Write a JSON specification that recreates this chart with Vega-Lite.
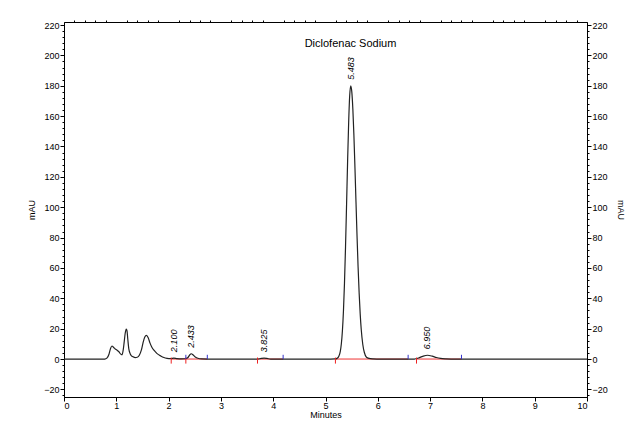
{
  "$schema": "https://vega.github.io/schema/vega-lite/v6.json",
  "autosize": "none",
  "width": 523,
  "height": 375,
  "padding": {"left": 64, "top": 22, "right": 55, "bottom": 35},
  "background": "white",
  "config": {
    "font": "Liberation Sans",
    "view": {"stroke": "black", "strokeWidth": 1},
    "axis": {"labelFont": "Liberation Sans", "labelFontSize": 9, "labelColor": "black", "titleFont": "Liberation Sans", "titleFontSize": 9, "titleFontWeight": "normal", "titleColor": "black", "domainColor": "black", "tickColor": "black", "grid": false, "labelPadding": 1, "tickSize": 4},
    "title": {"font": "Liberation Sans", "fontSize": 11, "fontWeight": "normal", "color": "black"}
  },
  "title": {"text": "Diclofenac Sodium", "anchor": "middle", "dx": 25, "baseline": "middle", "offset": -35},
  "datasets": {
    "curve": [
      {"t": 0, "mAU": 0}, {"t": 0.5, "mAU": 0}, {"t": 0.78, "mAU": 0}, {"t": 0.82, "mAU": 0.6},
      {"t": 0.86, "mAU": 3.2}, {"t": 0.89, "mAU": 7.0}, {"t": 0.917, "mAU": 8.6}, {"t": 0.95, "mAU": 7.6},
      {"t": 0.98, "mAU": 6.6}, {"t": 1.01, "mAU": 6.0}, {"t": 1.05, "mAU": 4.8}, {"t": 1.08, "mAU": 3.4},
      {"t": 1.11, "mAU": 2.8}, {"t": 1.13, "mAU": 5.5}, {"t": 1.15, "mAU": 11}, {"t": 1.17, "mAU": 17},
      {"t": 1.19, "mAU": 19.8}, {"t": 1.205, "mAU": 18.5}, {"t": 1.22, "mAU": 13}, {"t": 1.24, "mAU": 6.5},
      {"t": 1.27, "mAU": 3.2}, {"t": 1.31, "mAU": 1.6}, {"t": 1.36, "mAU": 1.0}, {"t": 1.40, "mAU": 1.2},
      {"t": 1.44, "mAU": 2.5}, {"t": 1.48, "mAU": 6}, {"t": 1.51, "mAU": 10.5}, {"t": 1.545, "mAU": 14.5},
      {"t": 1.577, "mAU": 15.6}, {"t": 1.61, "mAU": 14}, {"t": 1.645, "mAU": 10.5}, {"t": 1.68, "mAU": 7.8},
      {"t": 1.72, "mAU": 5.8}, {"t": 1.78, "mAU": 3.6}, {"t": 1.85, "mAU": 2.0}, {"t": 1.91, "mAU": 1.0},
      {"t": 1.97, "mAU": 0.5}, {"t": 2.04, "mAU": 0.3}, {"t": 2.1, "mAU": 0.6}, {"t": 2.16, "mAU": 0.3},
      {"t": 2.24, "mAU": 0.1}, {"t": 2.32, "mAU": 0.2}, {"t": 2.37, "mAU": 1.0}, {"t": 2.405, "mAU": 2.8},
      {"t": 2.433, "mAU": 3.5}, {"t": 2.465, "mAU": 2.9}, {"t": 2.51, "mAU": 1.4}, {"t": 2.56, "mAU": 0.5},
      {"t": 2.63, "mAU": 0.1}, {"t": 2.75, "mAU": 0}, {"t": 3.7, "mAU": 0}, {"t": 3.77, "mAU": 0.4},
      {"t": 3.825, "mAU": 0.6}, {"t": 3.88, "mAU": 0.4}, {"t": 3.95, "mAU": 0}, {"t": 5.1, "mAU": 0},
      {"t": 5.183, "mAU": 0.06}, {"t": 5.223, "mAU": 0.45}, {"t": 5.253, "mAU": 1.6}, {"t": 5.283, "mAU": 5.1},
      {"t": 5.303, "mAU": 10.1}, {"t": 5.323, "mAU": 18.5}, {"t": 5.343, "mAU": 31.5}, {"t": 5.363, "mAU": 50},
      {"t": 5.383, "mAU": 74}, {"t": 5.403, "mAU": 101.9}, {"t": 5.423, "mAU": 130.7}, {"t": 5.443, "mAU": 156},
      {"t": 5.463, "mAU": 173.7}, {"t": 5.483, "mAU": 180}, {"t": 5.503, "mAU": 176}, {"t": 5.523, "mAU": 164.7},
      {"t": 5.543, "mAU": 147.4}, {"t": 5.563, "mAU": 126.2}, {"t": 5.583, "mAU": 103.4}, {"t": 5.603, "mAU": 81},
      {"t": 5.623, "mAU": 60.8}, {"t": 5.643, "mAU": 43.6}, {"t": 5.663, "mAU": 29.9}, {"t": 5.683, "mAU": 19.6},
      {"t": 5.713, "mAU": 9.6}, {"t": 5.743, "mAU": 4.3}, {"t": 5.783, "mAU": 1.2}, {"t": 5.833, "mAU": 0.4},
      {"t": 5.903, "mAU": 0.1}, {"t": 5.983, "mAU": 0},
      {"t": 6.7, "mAU": 0}, {"t": 6.78, "mAU": 0.7}, {"t": 6.86, "mAU": 1.8}, {"t": 6.95, "mAU": 2.5},
      {"t": 7.04, "mAU": 1.9}, {"t": 7.12, "mAU": 1.0}, {"t": 7.2, "mAU": 0.4}, {"t": 7.3, "mAU": 0.1},
      {"t": 7.4, "mAU": 0}, {"t": 10, "mAU": 0}
    ],
    "peaks": [
      {"rt": 2.1, "label": "2.100", "h": 0.6},
      {"rt": 2.433, "label": "2.433", "h": 3.5},
      {"rt": 3.825, "label": "3.825", "h": 0.6},
      {"rt": 5.483, "label": "5.483", "h": 180},
      {"rt": 6.95, "label": "6.950", "h": 2.5}
    ],
    "segments": [
      {"start": 2.05, "end": 2.74}, {"start": 3.70, "end": 4.19},
      {"start": 5.19, "end": 6.58}, {"start": 6.74, "end": 7.60}
    ],
    "startTicks": [{"rt": 2.05}, {"rt": 2.33}, {"rt": 3.70}, {"rt": 5.19}, {"rt": 6.74}],
    "endTicks": [{"rt": 2.33}, {"rt": 2.74}, {"rt": 4.19}, {"rt": 6.58}, {"rt": 7.60}]
  },
  "resolve": {"axis": {"x": "independent", "y": "independent"}},
  "layer": [
    {
      "data": {"name": "segments"},
      "mark": {"type": "rule", "color": "#ee3333", "strokeWidth": 1},
      "encoding": {
        "x": {"field": "start", "type": "quantitative", "scale": {"domain": [0, 10], "nice": false}, "axis": null},
        "x2": {"field": "end"},
        "y": {"datum": 0, "type": "quantitative", "scale": {"domain": [-25, 222], "nice": false, "zero": false}, "axis": null}
      }
    },
    {
      "data": {"name": "curve"},
      "mark": {"type": "line", "color": "#222222", "strokeWidth": 1.2, "interpolate": "monotone"},
      "encoding": {
        "x": {"field": "t", "type": "quantitative", "title": "Minutes", "axis": {"values": [0,1,2,3,4,5,6,7,8,9,10], "titleY": 17, "titleBaseline": "middle", "tickSize": 4, "labelPadding": 0}},
        "y": {"field": "mAU", "type": "quantitative", "title": "mAU", "axis": {"orient": "left", "values": [-20,0,20,40,60,80,100,120,140,160,180,200,220], "titlePadding": 7}}
      }
    },
    {
      "data": {"name": "curve"},
      "mark": {"type": "line", "strokeOpacity": 0},
      "encoding": {
        "x": {"field": "t", "type": "quantitative", "axis": {"title": null, "labels": false, "domain": false, "tickSize": 2, "values": [0.2,0.4,0.6,0.8,1.2,1.4,1.6,1.8,2.2,2.4,2.6,2.8,3.2,3.4,3.6,3.8,4.2,4.4,4.6,4.8,5.2,5.4,5.6,5.8,6.2,6.4,6.6,6.8,7.2,7.4,7.6,7.8,8.2,8.4,8.6,8.8,9.2,9.4,9.6,9.8]}},
        "y": {"field": "mAU", "type": "quantitative", "axis": {"orient": "left", "title": null, "labels": false, "domain": false, "tickSize": 2, "values": [-24,-16,-12,-8,-4,4,8,12,16,24,28,32,36,44,48,52,56,64,68,72,76,84,88,92,96,104,108,112,116,124,128,132,136,144,148,152,156,164,168,172,176,184,188,192,196,204,208,212,216]}}
      }
    },
    {
      "data": {"name": "curve"},
      "mark": {"type": "line", "strokeOpacity": 0},
      "encoding": {
        "x": {"field": "t", "type": "quantitative", "axis": null},
        "y": {"field": "mAU", "type": "quantitative", "axis": {"orient": "right", "title": null, "labels": false, "domain": false, "tickSize": 2, "values": [-24,-16,-12,-8,-4,4,8,12,16,24,28,32,36,44,48,52,56,64,68,72,76,84,88,92,96,104,108,112,116,124,128,132,136,144,148,152,156,164,168,172,176,184,188,192,196,204,208,212,216]}}
      }
    },
    {
      "data": {"name": "startTicks"},
      "mark": {"type": "rule", "color": "#ee2222", "strokeWidth": 1},
      "encoding": {
        "x": {"field": "rt", "type": "quantitative", "axis": null},
        "y": {"datum": 1, "type": "quantitative", "axis": null},
        "y2": {"datum": -3}
      }
    },
    {
      "data": {"name": "endTicks"},
      "mark": {"type": "rule", "color": "#3333cc", "strokeWidth": 1},
      "encoding": {
        "x": {"field": "rt", "type": "quantitative", "axis": null},
        "y": {"datum": 0, "type": "quantitative", "axis": null},
        "y2": {"datum": 2.8}
      }
    },
    {
      "data": {"name": "peaks"},
      "mark": {"type": "text", "angle": 270, "align": "left", "baseline": "middle", "fontSize": 9, "font": "Liberation Sans", "fontStyle": "italic", "color": "black", "yOffset": -6},
      "encoding": {
        "x": {"field": "rt", "type": "quantitative", "axis": null},
        "y": {"field": "h", "type": "quantitative", "axis": {"orient": "right", "title": "mAU", "values": [-20,0,20,40,60,80,100,120,140,160,180,200,220], "titlePadding": 8}},
        "text": {"field": "label"}
      }
    }
  ]
}
